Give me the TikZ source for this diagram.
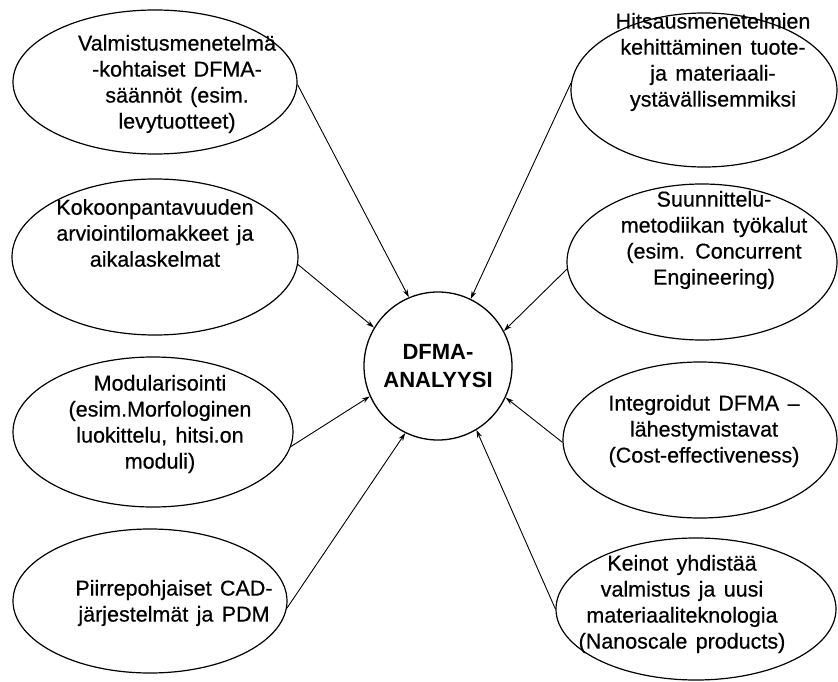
\documentclass[tikz,border=0pt]{standalone}
\usepackage{fontspec}
\setmainfont{Liberation Sans}
\newfontfamily\bubblefont[WordSpace=1.4, FakeBold=0.5]{Liberation Sans}
\usetikzlibrary{shapes.geometric,arrows.meta}

\begin{document}
\begin{tikzpicture}[x=1pt,y=-1pt,
  bubble/.style={draw, ellipse, line width=1.2pt, inner sep=0pt},
  txt/.style={align=center, inner sep=0pt, font=\bubblefont\fontsize{21.5}{26}\selectfont},
  hub/.style={draw, circle, line width=1.3pt, inner sep=0pt, minimum size=148pt,
    align=center, font=\bfseries\fontsize{22}{28}\selectfont},
  feed/.style={-{Stealth[length=8pt,width=5pt]}, line width=0.9pt}]
\useasboundingbox (0,0) rectangle (838,682);

% central node
\node[hub] (c) at (438,366) {DFMA-\\ANALYYSI};

% surrounding ellipses
\node[bubble, minimum width=284pt, minimum height=144pt] (e1) at (155,82) {};
\node[bubble, minimum width=266pt, minimum height=154pt] (e2) at (704,90) {};
\node[bubble, minimum width=286pt, minimum height=156pt] (e3) at (155,257) {};
\node[bubble, minimum width=270pt, minimum height=156pt] (e4) at (702,262) {};
\node[bubble, minimum width=280pt, minimum height=150pt] (e5) at (153,432) {};
\node[bubble, minimum width=274pt, minimum height=156pt] (e6) at (700,440) {};
\node[bubble, minimum width=274pt, minimum height=144pt] (e7) at (150,601) {};
\node[bubble, minimum width=280pt, minimum height=142pt] (e8) at (696,609) {};

% ellipse texts
\node[txt] (t1) at (177,84) {Valmistusmenetelmä\\-kohtaiset DFMA-\\säännöt (esim.\\levytuotteet)};
\node[txt] (t2) at (713,62) {Hitsausmenetelmien\\kehittäminen tuote-\\ja materiaali-\\ystävällisemmiksi};
\node[txt] (t3) at (155,233) {Kokoonpantavuuden\\arviointilomakkeet ja\\aikalaskelmat};
\node[txt] (t4) at (714,240) {Suunnittelu-\\metodiikan työkalut\\(esim. Concurrent\\Engineering)};
\node[txt] (t5) at (160,424) {Modularisointi\\(esim.Morfologinen\\luokittelu, hitsi.on\\moduli)};
\node[txt] (t6) at (704,431) {Integroidut DFMA –\\lähestymistavat\\(Cost-effectiveness)};
\node[txt] (t7) at (174,603) {Piirrepohjaiset CAD-\\järjestelmät ja PDM};
\node[txt] (t8) at (682,604) {Keinot yhdistää\\valmistus ja uusi\\materiaaliteknologia\\(Nanoscale products)};

% connectors into the centre
\draw[feed] (e1.-1)  -- (c.113);
\draw[feed] (e2.177) -- (c.64);
\draw[feed] (e3.-3)  -- (c.149);
\draw[feed] (e4.183) -- (c.28);
\draw[feed] (e5.-6)  -- (c.204);
\draw[feed] (e6.181) -- (c.-25);
\draw[feed] (e7.-3)  -- (c.-116);
\draw[feed] (e8.180) -- (c.-59);
\end{tikzpicture}
\end{document}
